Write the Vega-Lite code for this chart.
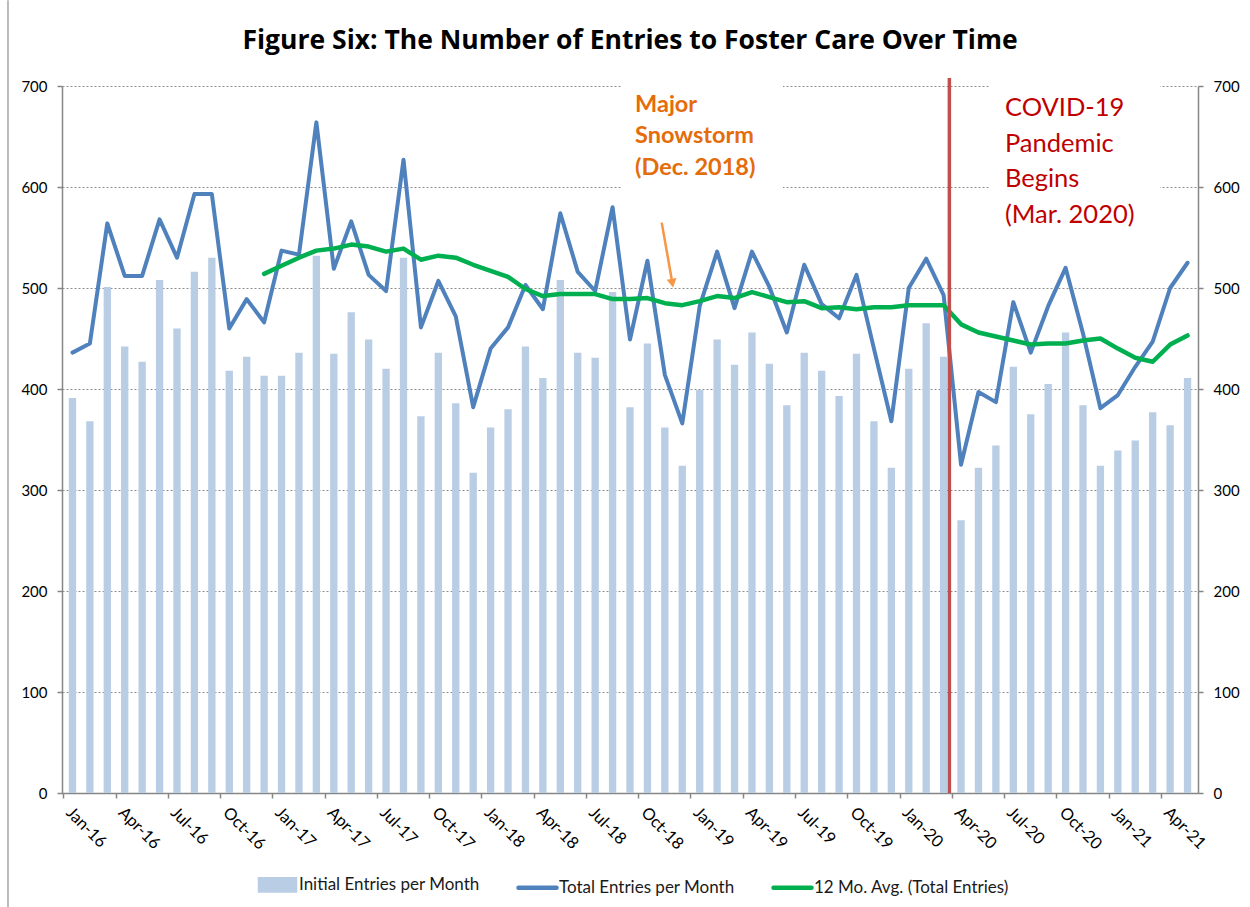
{
  "$schema": "https://vega.github.io/schema/vega-lite/v6.json",
  "width": 1136,
  "height": 707,
  "autosize": {"type": "none"},
  "padding": {"left": 62, "top": 86, "right": 52, "bottom": 114},
  "background": "white",
  "config": {"view": {"stroke": null}, "font": "Lato"},
  "title": {
    "text": "Figure Six: The Number of Entries to Foster Care Over Time",
    "font": "Open Sans", "fontSize": 26.5, "fontWeight": "bold", "color": "#000000",
    "anchor": "middle", "frame": "group", "baseline": "alphabetic", "offset": -76
  },
  "data": {"values": [
    {"month": "Jan-16", "initial": 391, "total": 436, "avg": null},
    {"month": "Feb-16", "initial": 368, "total": 445, "avg": null},
    {"month": "Mar-16", "initial": 501, "total": 564, "avg": null},
    {"month": "Apr-16", "initial": 442, "total": 512, "avg": null},
    {"month": "May-16", "initial": 427, "total": 512, "avg": null},
    {"month": "Jun-16", "initial": 508, "total": 568, "avg": null},
    {"month": "Jul-16", "initial": 460, "total": 530, "avg": null},
    {"month": "Aug-16", "initial": 516, "total": 593, "avg": null},
    {"month": "Sep-16", "initial": 530, "total": 593, "avg": null},
    {"month": "Oct-16", "initial": 418, "total": 460, "avg": null},
    {"month": "Nov-16", "initial": 432, "total": 489, "avg": null},
    {"month": "Dec-16", "initial": 413, "total": 466, "avg": 514},
    {"month": "Jan-17", "initial": 413, "total": 537, "avg": 522},
    {"month": "Feb-17", "initial": 436, "total": 533, "avg": 530},
    {"month": "Mar-17", "initial": 532, "total": 664, "avg": 537},
    {"month": "Apr-17", "initial": 435, "total": 519, "avg": 539},
    {"month": "May-17", "initial": 476, "total": 566, "avg": 543},
    {"month": "Jun-17", "initial": 449, "total": 513, "avg": 541},
    {"month": "Jul-17", "initial": 420, "total": 497, "avg": 536},
    {"month": "Aug-17", "initial": 530, "total": 627, "avg": 539},
    {"month": "Sep-17", "initial": 373, "total": 461, "avg": 528},
    {"month": "Oct-17", "initial": 436, "total": 507, "avg": 532},
    {"month": "Nov-17", "initial": 386, "total": 472, "avg": 530},
    {"month": "Dec-17", "initial": 317, "total": 382, "avg": 523},
    {"month": "Jan-18", "initial": 362, "total": 440, "avg": 517},
    {"month": "Feb-18", "initial": 380, "total": 461, "avg": 511},
    {"month": "Mar-18", "initial": 442, "total": 503, "avg": 499},
    {"month": "Apr-18", "initial": 411, "total": 479, "avg": 492},
    {"month": "May-18", "initial": 508, "total": 574, "avg": 494},
    {"month": "Jun-18", "initial": 436, "total": 516, "avg": 494},
    {"month": "Jul-18", "initial": 431, "total": 497, "avg": 494},
    {"month": "Aug-18", "initial": 496, "total": 580, "avg": 489},
    {"month": "Sep-18", "initial": 382, "total": 449, "avg": 489},
    {"month": "Oct-18", "initial": 445, "total": 527, "avg": 490},
    {"month": "Nov-18", "initial": 362, "total": 414, "avg": 485},
    {"month": "Dec-18", "initial": 324, "total": 366, "avg": 483},
    {"month": "Jan-19", "initial": 399, "total": 482, "avg": 487},
    {"month": "Feb-19", "initial": 449, "total": 536, "avg": 492},
    {"month": "Mar-19", "initial": 424, "total": 480, "avg": 490},
    {"month": "Apr-19", "initial": 456, "total": 536, "avg": 496},
    {"month": "May-19", "initial": 425, "total": 501, "avg": 491},
    {"month": "Jun-19", "initial": 384, "total": 456, "avg": 486},
    {"month": "Jul-19", "initial": 436, "total": 523, "avg": 487},
    {"month": "Aug-19", "initial": 418, "total": 484, "avg": 480},
    {"month": "Sep-19", "initial": 393, "total": 470, "avg": 481},
    {"month": "Oct-19", "initial": 435, "total": 513, "avg": 479},
    {"month": "Nov-19", "initial": 368, "total": 440, "avg": 481},
    {"month": "Dec-19", "initial": 322, "total": 368, "avg": 481},
    {"month": "Jan-20", "initial": 420, "total": 500, "avg": 483},
    {"month": "Feb-20", "initial": 465, "total": 529, "avg": 483},
    {"month": "Mar-20", "initial": 432, "total": 493, "avg": 483},
    {"month": "Apr-20", "initial": 270, "total": 325, "avg": 464},
    {"month": "May-20", "initial": 322, "total": 397, "avg": 456},
    {"month": "Jun-20", "initial": 344, "total": 387, "avg": 452},
    {"month": "Jul-20", "initial": 422, "total": 486, "avg": 448},
    {"month": "Aug-20", "initial": 375, "total": 436, "avg": 444},
    {"month": "Sep-20", "initial": 405, "total": 482, "avg": 445},
    {"month": "Oct-20", "initial": 456, "total": 520, "avg": 445},
    {"month": "Nov-20", "initial": 384, "total": 455, "avg": 448},
    {"month": "Dec-20", "initial": 324, "total": 381, "avg": 450},
    {"month": "Jan-21", "initial": 339, "total": 394, "avg": 440},
    {"month": "Feb-21", "initial": 349, "total": 422, "avg": 431},
    {"month": "Mar-21", "initial": 377, "total": 447, "avg": 427},
    {"month": "Apr-21", "initial": 364, "total": 500, "avg": 444},
    {"month": "May-21", "initial": 411, "total": 525, "avg": 453}
  ]},
  "layer": [
    {
      "layer": [
        {
          "mark": {"type": "bar", "width": {"band": 0.42}},
          "encoding": {
            "x": {
              "field": "month", "type": "ordinal", "sort": null,
              "scale": {"type": "band", "paddingInner": 0, "paddingOuter": 0.1},
              "axis": {
                "title": null,
                "values": ["Jan-16","Apr-16","Jul-16","Oct-16","Jan-17","Apr-17","Jul-17","Oct-17","Jan-18","Apr-18","Jul-18","Oct-18","Jan-19","Apr-19","Jul-19","Oct-19","Jan-20","Apr-20","Jul-20","Oct-20","Jan-21","Apr-21"],
                "bandPosition": 0, "labelOffset": 2,
                "labelAngle": 45, "labelAlign": "left", "labelBaseline": "top",
                "labelPadding": 6, "tickSize": 5, "tickColor": "#868686", "tickWidth": 1.5,
                "domainColor": "#868686", "domainWidth": 1.5,
                "labelFont": "Lato", "labelFontSize": 16.5, "labelColor": "#000000",
                "grid": false, "labelFlush": false, "labelOverlap": false
              }
            },
            "y": {
              "field": "initial", "type": "quantitative",
              "scale": {"domain": [0, 700], "nice": false},
              "axis": {
                "title": null, "values": [0,100,200,300,400,500,600,700],
                "grid": true, "gridDash": [2, 2], "gridColor": "#8c8c8c", "gridWidth": 1,
                "tickSize": 5, "tickColor": "#868686", "tickWidth": 1.5,
                "domainColor": "#868686", "domainWidth": 1.5,
                "labelFont": "Lato", "labelFontSize": 15, "labelColor": "#000000", "labelPadding": 10
              }
            },
            "color": {
              "datum": "Initial Entries per Month", "type": "nominal",
              "scale": {
                "domain": ["Initial Entries per Month", "Total Entries per Month", "12 Mo. Avg. (Total Entries)"],
                "range": ["#B9CDE5", "#4F81BD", "#00B050"]
              },
              "legend": {
                "title": null, "orient": "none", "legendX": 194, "legendY": 777,
                "direction": "horizontal", "padding": 0,
                "symbolSize": 1444, "symbolStrokeWidth": 4.5,
                "labelFont": "Lato", "labelFontSize": 17, "labelColor": "#1a1a1a",
                "labelOffset": 0, "columnPadding": 29, "labelLimit": 400,
                "encode": {
                  "symbols": {
                    "update": {
                      "shape": {"signal": "datum.value === 'Initial Entries per Month' ? 'M-0.92,-0.3H0.92V0.3H-0.92Z' : 'M-1,0H1'"},
                      "fill": {"signal": "datum.value === 'Initial Entries per Month' ? '#B9CDE5' : 'transparent'"},
                      "stroke": {"signal": "datum.value === 'Initial Entries per Month' ? 'transparent' : (datum.value === 'Total Entries per Month' ? '#4F81BD' : '#00B050')"},
                      "strokeWidth": {"value": 4.5},
                      "strokeCap": {"value": "round"},
                      "opacity": {"value": 1}
                    }
                  }
                }
              }
            }
          }
        },
        {
          "mark": {"type": "line", "strokeWidth": 4, "strokeJoin": "round", "strokeCap": "round"},
          "encoding": {
            "x": {"field": "month", "type": "ordinal", "sort": null},
            "y": {"field": "total", "type": "quantitative"},
            "color": {"datum": "Total Entries per Month", "type": "nominal"}
          }
        },
        {
          "mark": {"type": "line", "strokeWidth": 4.5, "strokeJoin": "round", "strokeCap": "round"},
          "encoding": {
            "x": {"field": "month", "type": "ordinal", "sort": null},
            "y": {"field": "avg", "type": "quantitative"},
            "color": {"datum": "12 Mo. Avg. (Total Entries)", "type": "nominal"}
          }
        }
      ]
    },
    {
      "layer": [
        {
          "data": {"values": [{}]},
          "mark": {"type": "rule", "color": "#A6A6A6", "strokeWidth": 1.5},
          "encoding": {
            "x": {"datum": -3.7, "type": "quantitative", "scale": {"domain": [-0.6, 64.6], "nice": false, "zero": false}, "axis": null},
            "y": {
              "datum": 785, "type": "quantitative",
              "axis": {
                "orient": "right", "title": null, "values": [0,100,200,300,400,500,600,700],
                "grid": false, "tickSize": 5, "tickColor": "#868686", "tickWidth": 1.5,
                "domainColor": "#868686", "domainWidth": 1.5,
                "labelFont": "Lato", "labelFontSize": 15, "labelColor": "#000000", "labelPadding": 10
              }
            },
            "y2": {"datum": -113}
          }
        },
        {
          "data": {"values": [{}]},
          "mark": {"type": "rect", "fill": "white"},
          "encoding": {
            "x": {"datum": 31.54, "type": "quantitative"},
            "x2": {"datum": 40.78},
            "y": {"datum": 710, "type": "quantitative"},
            "y2": {"datum": 590}
          }
        },
        {
          "data": {"values": [{}]},
          "mark": {"type": "rect", "fill": "white"},
          "encoding": {
            "x": {"datum": 52.66, "type": "quantitative"},
            "x2": {"datum": 62.42},
            "y": {"datum": 710, "type": "quantitative"},
            "y2": {"datum": 550}
          }
        },
        {
          "data": {"values": [{}]},
          "mark": {"type": "rule", "color": "#C0504D", "strokeWidth": 3.5},
          "encoding": {
            "x": {"datum": 50.33, "type": "quantitative"},
            "y": {"datum": 708, "type": "quantitative"},
            "y2": {"datum": 0}
          }
        },
        {
          "data": {"values": [{}]},
          "mark": {
            "type": "text", "text": ["Major", "Snowstorm", "(Dec. 2018)"],
            "align": "left", "baseline": "alphabetic", "font": "Lato", "fontSize": 23.5,
            "fontWeight": "bold", "color": "#E46C0A", "lineHeight": 31.7
          },
          "encoding": {
            "x": {"datum": 32.29, "type": "quantitative"},
            "y": {"datum": 674.6, "type": "quantitative"}
          }
        },
        {
          "data": {"values": [{}]},
          "mark": {
            "type": "text", "text": ["COVID-19", "Pandemic", "Begins", "(Mar. 2020)"],
            "align": "left", "baseline": "alphabetic", "font": "Lato", "fontSize": 25.5,
            "color": "#C00000", "lineHeight": 35.7
          },
          "encoding": {
            "x": {"datum": 53.52, "type": "quantitative"},
            "y": {"datum": 670.3, "type": "quantitative"}
          }
        },
        {
          "data": {"values": [{}]},
          "mark": {"type": "rule", "color": "#F79646", "strokeWidth": 2.5},
          "encoding": {
            "x": {"datum": 33.82, "type": "quantitative"},
            "x2": {"datum": 34.39},
            "y": {"datum": 564.7, "type": "quantitative"},
            "y2": {"datum": 509}
          }
        },
        {
          "data": {"values": [{}]},
          "mark": {"type": "point", "shape": "triangle-down", "filled": true, "color": "#F79646", "opacity": 1, "size": 100, "angle": 350},
          "encoding": {
            "x": {"datum": 34.43, "type": "quantitative"},
            "y": {"datum": 504.7, "type": "quantitative"}
          }
        }
      ]
    }
  ],
  "resolve": {"scale": {"x": "independent"}, "axis": {"y": "independent"}}
}
